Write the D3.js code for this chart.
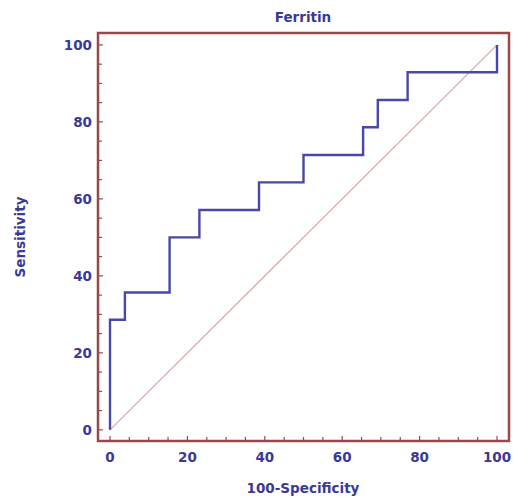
<!DOCTYPE html>
<html>
<head>
<meta charset="utf-8">
<script src="https://cdn.jsdelivr.net/npm/d3@7"></script>
<style>
    body { margin: 0; background: #fff; }
    text { font-family: "DejaVu Sans", sans-serif; font-weight: bold; fill: #3a3a96; }
</style>
</head>
<body>
<svg width="516" height="497"></svg>
<script>
// ROC curve points (100-Specificity, Sensitivity)
const specificityX = [0, 0, 3.85, 3.85, 15.4, 15.4, 23.1, 23.1, 38.5, 38.5, 50, 50, 65.4, 65.4, 69.2, 69.2, 76.9, 76.9, 100, 100];
const sensitivityY = [0, 28.6, 28.6, 35.7, 35.7, 50, 50, 57.1, 57.1, 64.3, 64.3, 71.4, 71.4, 78.6, 78.6, 85.7, 85.7, 92.9, 92.9, 100];
const tickValues = [0, 20, 40, 60, 80, 100];
const minorTicks = d3.range(0, 101, 5);

const svg = d3.select("svg");
const frameLeft = 98, frameRight = 509, frameTop = 33, frameBottom = 441;

const xScale = d3.scaleLinear().domain([-3.1, 103.1]).range([frameLeft, frameRight]);
const yScale = d3.scaleLinear().domain([-2.9, 103.1]).range([frameBottom, frameTop]);

const frameColor = "#9a4848";

// diagonal reference line
svg.append("line")
    .attr("x1", xScale(0)).attr("y1", yScale(0))
    .attr("x2", xScale(100)).attr("y2", yScale(100))
    .attr("stroke", "#e0a0a6")
    .attr("stroke-width", 1.2);

// ticks (inward)
const g = svg.append("g");
g.selectAll(".xt")
    .data(minorTicks)
    .enter()
    .append("line")
    .attr("x1", (d) => xScale(d)).attr("x2", (d) => xScale(d))
    .attr("y1", frameBottom).attr("y2", (d) => frameBottom - (d % 20 === 0 ? 5 : 4))
    .attr("stroke", frameColor).attr("stroke-width", 1.2);
g.selectAll(".yt")
    .data(minorTicks)
    .enter()
    .append("line")
    .attr("y1", (d) => yScale(d)).attr("y2", (d) => yScale(d))
    .attr("x1", frameLeft).attr("x2", (d) => frameLeft + (d % 20 === 0 ? 5 : 4))
    .attr("stroke", frameColor).attr("stroke-width", 1.2);

// ROC curve
const points = specificityX.map((x, i) => [x, sensitivityY[i]]);
svg.append("path")
    .datum(points)
    .attr("d", d3.line().x((d) => xScale(d[0])).y((d) => yScale(d[1])))
    .attr("fill", "none")
    .attr("stroke", "#4848a8")
    .attr("stroke-width", 2.4);

// frame
svg.append("rect")
    .attr("x", frameLeft).attr("y", frameTop)
    .attr("width", frameRight - frameLeft).attr("height", frameBottom - frameTop)
    .attr("fill", "none")
    .attr("stroke", frameColor)
    .attr("stroke-width", 2.5);

// tick labels
svg.selectAll(".xl")
    .data(tickValues)
    .enter()
    .append("text")
    .attr("x", (d) => xScale(d))
    .attr("y", 462)
    .attr("text-anchor", "middle")
    .style("font-size", "13.5px")
    .text((d) => d);
svg.selectAll(".yl")
    .data(tickValues)
    .enter()
    .append("text")
    .attr("x", 92)
    .attr("y", (d) => yScale(d) + 5)
    .attr("text-anchor", "end")
    .style("font-size", "13.5px")
    .text((d) => d);

// titles
svg.append("text")
    .attr("x", 303).attr("y", 22)
    .attr("text-anchor", "middle")
    .style("font-size", "13.5px")
    .text("Ferritin");
svg.append("text")
    .attr("x", 303).attr("y", 493)
    .attr("text-anchor", "middle")
    .style("font-size", "13.5px")
    .text("100-Specificity");
svg.append("text")
    .attr("transform", "translate(25,237) rotate(-90)")
    .attr("text-anchor", "middle")
    .style("font-size", "13.5px")
    .text("Sensitivity");
</script>
</body>
</html>
